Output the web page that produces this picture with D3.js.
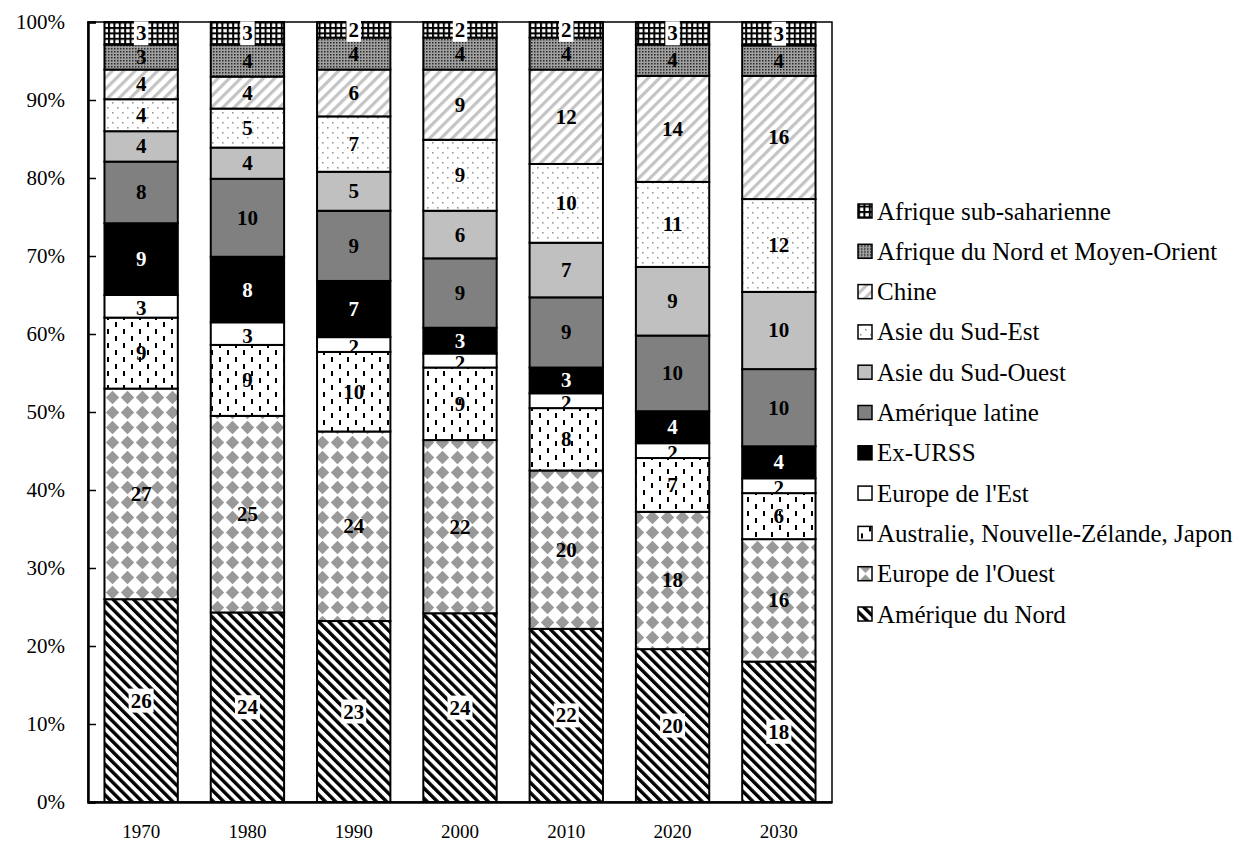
<!DOCTYPE html>
<html lang="fr">
<head>
<meta charset="utf-8">
<title>Répartition par région</title>
<script src="https://d3js.org/d3.v7.min.js"></script>
<style>
body { margin: 0; background: #fff; }
svg text { font-family: "Liberation Serif", "Times New Roman", serif; }
.seg-label { font-weight: bold; font-size: 21px; text-anchor: middle; }
</style>
</head>
<body>
<svg id="chart" width="1247" height="845"></svg>
<script>
// years on the x axis
var years = ["1970", "1980", "1990", "2000", "2010", "2020", "2030"];

// series, bottom to top (shares in %)
var ameriqueNord   = [26.0, 24.3, 23.2, 24.2, 22.2, 19.6, 18.0];
var europeOuest    = [27.0, 25.2, 24.3, 22.2, 20.3, 17.6, 15.7];
var australie      = [9.1, 9.1, 10.2, 9.3, 8.0, 6.9, 5.9];
var europeEst      = [2.9, 2.9, 1.9, 1.8, 1.9, 1.9, 1.9];
var exUrss         = [9.2, 8.4, 7.2, 3.3, 3.3, 4.1, 4.1];
var ameriqueLatine = [7.9, 10.0, 9.0, 8.9, 9.0, 9.7, 9.9];
var asieSudOuest   = [3.9, 4.0, 5.0, 6.1, 7.0, 8.8, 9.9];
var asieSudEst     = [4.1, 5.0, 7.1, 9.1, 10.1, 10.9, 11.9];
var chine          = [3.8, 4.1, 6.0, 9.0, 12.1, 13.6, 15.8];
var afriqueNord    = [3.2, 4.1, 4.1, 4.1, 4.1, 4.0, 3.9];
var afriqueSub     = [2.9, 2.9, 2.0, 2.0, 2.0, 2.9, 3.0];

var seriesNames = ["Amérique du Nord", "Europe de l'Ouest", "Australie, Nouvelle-Zélande, Japon",
  "Europe de l'Est", "Ex-URSS", "Amérique latine", "Asie du Sud-Ouest", "Asie du Sud-Est",
  "Chine", "Afrique du Nord et Moyen-Orient", "Afrique sub-saharienne"];
var seriesValues = [ameriqueNord, europeOuest, australie, europeEst, exUrss, ameriqueLatine,
  asieSudOuest, asieSudEst, chine, afriqueNord, afriqueSub];

var yTicks = [0, 10, 20, 30, 40, 50, 60, 70, 80, 90, 100];

// table for d3.stack
var table = years.map(function(yr, i) {
  var row = { year: yr };
  seriesNames.forEach(function(n, k) { row[n] = seriesValues[k][i]; });
  return row;
});

var svg = d3.select("#chart");
var plotL = 88, plotR = 832, plotT = 22, plotB = 802;

var x = d3.scaleBand().domain(years).range([plotL, plotR])
  .paddingInner(0.31).paddingOuter(0.155);
var y = d3.scaleLinear().domain([0, 100]).range([plotB, plotT]);

// patterns
var defs = svg.append("defs");
function pat(id, w, h, rot) {
  var p = defs.append("pattern").attr("id", id)
    .attr("patternUnits", "userSpaceOnUse").attr("width", w).attr("height", h);
  if (rot) p.attr("patternTransform", "rotate(" + rot + ")");
  return p;
}
var p;
p = pat("p-nord", 7.2, 7.2, -45);
p.append("rect").attr("width", 7.2).attr("height", 7.2).attr("fill", "#fff");
p.append("rect").attr("width", 3.4).attr("height", 7.2).attr("fill", "#000");

p = pat("p-ouest", 15, 15, 0);
p.append("rect").attr("width", 15).attr("height", 15).attr("fill", "#fff");
p.append("path").attr("d", "M7.5,0.8 L14.2,7.5 L7.5,14.2 L0.8,7.5Z").attr("fill", "#999");

p = pat("p-austr", 16, 14, 0);
p.append("rect").attr("width", 16).attr("height", 14).attr("fill", "#fff");
p.append("rect").attr("x", 3).attr("y", 0).attr("width", 2).attr("height", 5).attr("fill", "#000");
p.append("rect").attr("x", 11).attr("y", 7).attr("width", 2).attr("height", 5).attr("fill", "#000");

p = pat("p-sudest", 10, 10, 0);
p.append("rect").attr("width", 10).attr("height", 10).attr("fill", "#fff");
p.append("rect").attr("x", 2).attr("y", 2).attr("width", 1.6).attr("height", 1.6).attr("fill", "#999");
p.append("rect").attr("x", 7).attr("y", 7).attr("width", 1.6).attr("height", 1.6).attr("fill", "#999");

p = pat("p-chine", 8, 8, 45);
p.append("rect").attr("width", 8).attr("height", 8).attr("fill", "#fff");
p.append("rect").attr("width", 3.2).attr("height", 8).attr("fill", "#c4c4c4");

p = pat("p-nafr", 3, 3, 0);
p.append("rect").attr("width", 3).attr("height", 3).attr("fill", "#a0a0a0");
p.append("rect").attr("width", 1.5).attr("height", 1.5).attr("fill", "#2a2a2a");

p = pat("p-ssa", 5.4, 5.4, 0);
p.append("rect").attr("width", 5.4).attr("height", 5.4).attr("fill", "#000");
p.append("rect").attr("x", 2).attr("y", 2).attr("width", 3.4).attr("height", 3.4).attr("fill", "#fff");

var fills = ["url(#p-nord)", "url(#p-ouest)", "url(#p-austr)", "#fff", "#000", "#808080",
  "#c0c0c0", "url(#p-sudest)", "url(#p-chine)", "url(#p-nafr)", "url(#p-ssa)"];
var labelColor = function(k) { return k === 4 ? "#fff" : "#000"; };
var labelBox = function(k) { return k === 0 || k === 10; };
var labelClip = function(k) { return k === 3; };   // thin Europe de l'Est slices

var stack = d3.stack().keys(seriesNames)(table);

// frame
svg.append("rect").attr("x", plotL).attr("y", plotT)
  .attr("width", plotR - plotL).attr("height", plotB - plotT)
  .attr("fill", "none").attr("stroke", "#000").attr("stroke-width", 1.5);

// bars
var layers = svg.append("g").selectAll("g").data(stack).join("g")
  .attr("fill", function(d, k) { return fills[k]; });
layers.selectAll("rect").data(function(d) { return d; }).join("rect")
  .attr("x", function(d) { return x(d.data.year); })
  .attr("y", function(d) { return y(d[1]); })
  .attr("width", x.bandwidth())
  .attr("height", function(d) { return y(d[0]) - y(d[1]); })
  .attr("stroke", "#000").attr("stroke-width", 2);

// labels
stack.forEach(function(layer, k) {
  var g = svg.append("g");
  layer.forEach(function(d, i) {
    var cx = x(d.data.year) + x.bandwidth() / 2;
    var cy = (y(d[0]) + y(d[1])) / 2;
    var txt = String(Math.round(d[1] - d[0]));
    var holder = g;
    if (labelClip(k)) {
      var cid = "clip-" + k + "-" + i;
      defs.append("clipPath").attr("id", cid).append("rect")
        .attr("x", x(d.data.year)).attr("y", y(d[1]))
        .attr("width", x.bandwidth()).attr("height", y(d[0]) - y(d[1]));
      holder = g.append("g").attr("clip-path", "url(#" + cid + ")");
    }
    if (labelBox(k)) {
      var w = txt.length * 10.5 + 4;
      holder.append("rect").attr("x", cx - w / 2).attr("y", cy - 12)
        .attr("width", w).attr("height", 24).attr("fill", "#fff");
    }
    holder.append("text").attr("class", "seg-label")
      .attr("x", cx).attr("y", cy + (labelClip(k) ? 9 : 7))
      .attr("fill", labelColor(k)).text(txt);
  });
});

// y axis
var yAxis = svg.append("g").attr("transform", "translate(" + plotL + ",0)")
  .call(d3.axisLeft(y).tickValues(yTicks).tickSize(-8).tickPadding(23)
    .tickFormat(function(d) { return d + "%"; }));
yAxis.select(".domain").attr("stroke-width", 2.5);
yAxis.selectAll(".tick line").attr("stroke-width", 1.5);
yAxis.selectAll("text").attr("font-size", 21).attr("font-family", "Liberation Serif").attr("fill", "#000");

// x axis
var xAxis = svg.append("g").attr("transform", "translate(0," + plotB + ")")
  .call(d3.axisBottom(x).tickSize(0).tickPadding(23));
xAxis.select(".domain").attr("stroke-width", 2.5);
xAxis.selectAll("text").attr("font-size", 19).attr("font-family", "Liberation Serif").attr("fill", "#000");

// legend, top to bottom = last series first
var legendOrder = d3.range(seriesNames.length).reverse();
var legend = svg.append("g").selectAll("g").data(legendOrder).join("g")
  .attr("transform", function(k, i) { return "translate(858," + (211 + i * 40.3) + ")"; });
legend.append("rect").attr("x", 0).attr("y", -7).attr("width", 14).attr("height", 14)
  .attr("fill", function(k) { return fills[k]; })
  .attr("stroke", "#000").attr("stroke-width", 1.5);
legend.append("text").attr("x", 19).attr("y", 8.5).attr("font-size", 25)
  .text(function(k) { return seriesNames[k]; });
</script>
</body>
</html>
